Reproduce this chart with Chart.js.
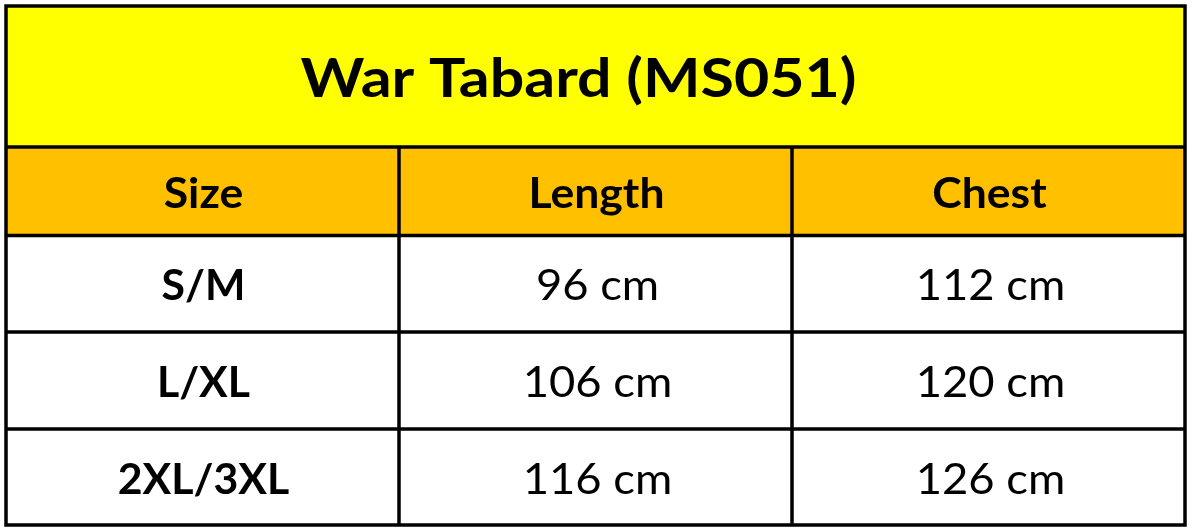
<!DOCTYPE html>
<html>
<head>
<meta charset="utf-8">
<script src="https://cdn.jsdelivr.net/npm/chart.js@4/dist/chart.umd.min.js"></script>
<style>
  html, body { margin: 0; padding: 0; background: #fff; }
  #wrap { width: 1192px; height: 532px; }
</style>
</head>
<body>
<div id="wrap"><canvas id="sizeChart" width="1192" height="532"></canvas></div>
<script>
// ── DATA ──
const titleText = 'War Tabard (MS051)';
const columns = ['Size', 'Length', 'Chest'];
const sizes = ['S/M', 'L/XL', '2XL/3XL'];
const lengthCm = [96, 106, 116];
const chestCm = [112, 120, 126];
const unit = 'cm';

// ── LAYOUT (y units = px below top border) ──
const rowEdges = [0, 141, 229.5, 326, 423, 519];
const FONT = 'Lato, "Open Sans", sans-serif';

const tablePlugin = {
    id: 'sizeTable',
    afterDraw(chart) {
        const { ctx, scales: { x, y } } = chart;
        const px = v => x.getPixelForValue(v);
        const py = v => y.getPixelForValue(v);
        const rows = sizes.map((s, i) => [s, lengthCm[i] + ' ' + unit, chestCm[i] + ' ' + unit]);

        ctx.save();
        // backgrounds
        ctx.fillStyle = '#ffff00';
        ctx.fillRect(px(0), py(rowEdges[0]), px(3) - px(0), py(rowEdges[1]) - py(rowEdges[0]));
        ctx.fillStyle = '#ffc000';
        ctx.fillRect(px(0), py(rowEdges[1]), px(3) - px(0), py(rowEdges[2]) - py(rowEdges[1]));

        // text (slightly widened, Calibri-like proportions)
        const drawText = (txt, cx, top, bot, weight, size, stretch, fitWidth) => {
            ctx.font = weight + ' ' + size + 'px ' + FONT;
            ctx.fillStyle = '#000';
            ctx.textAlign = 'center';
            ctx.textBaseline = 'alphabetic';
            const cap = ctx.measureText('H').actualBoundingBoxAscent;
            const sx = fitWidth ? fitWidth / ctx.measureText(txt).width : stretch;
            ctx.save();
            ctx.translate(cx, (py(top) + py(bot)) / 2 + cap / 2 + 1);
            ctx.scale(sx, 1);
            ctx.fillText(txt, 0, 0);
            ctx.restore();
        };
        drawText(titleText, (px(0) + px(3)) / 2 - 17, rowEdges[0], rowEdges[1], 'bold', 53, 1, 556);
        columns.forEach((c, j) => drawText(c, (px(j) + px(j + 1)) / 2 + 1, rowEdges[1], rowEdges[2], 'bold', 42, 1.06));
        rows.forEach((r, i) => {
            r.forEach((cell, j) => {
                const bold = j === 0;
                drawText(cell, (px(j) + px(j + 1)) / 2 + (bold ? 1 : 2), rowEdges[i + 2], rowEdges[i + 3],
                    bold ? 'bold' : 'normal', 42, bold ? 1.02 : 1.08);
            });
        });

        // grid lines
        ctx.strokeStyle = '#000';
        ctx.lineWidth = 3.5;
        ctx.beginPath();
        rowEdges.forEach(v => { ctx.moveTo(px(0) - 1.75, py(v)); ctx.lineTo(px(3) + 1.75, py(v)); });
        [0, 3].forEach(v => { ctx.moveTo(px(v), py(rowEdges[0])); ctx.lineTo(px(v), py(rowEdges[5])); });
        [1, 2].forEach(v => { ctx.moveTo(px(v), py(rowEdges[1])); ctx.lineTo(px(v), py(rowEdges[5])); });
        ctx.stroke();
        ctx.restore();
    }
};

new Chart(document.getElementById('sizeChart').getContext('2d'), {
    type: 'scatter',
    data: { datasets: [{ data: [] }] },
    options: {
        responsive: false,
        animation: false,
        devicePixelRatio: 1,
        layout: { padding: { left: 6, right: 7, top: 6, bottom: 7 } },
        plugins: { legend: { display: false }, tooltip: { enabled: false } },
        scales: {
            x: { type: 'linear', min: 0, max: 3, display: false },
            y: { type: 'linear', min: 0, max: 519, reverse: true, display: false }
        }
    },
    plugins: [tablePlugin]
});
</script>
</body>
</html>
